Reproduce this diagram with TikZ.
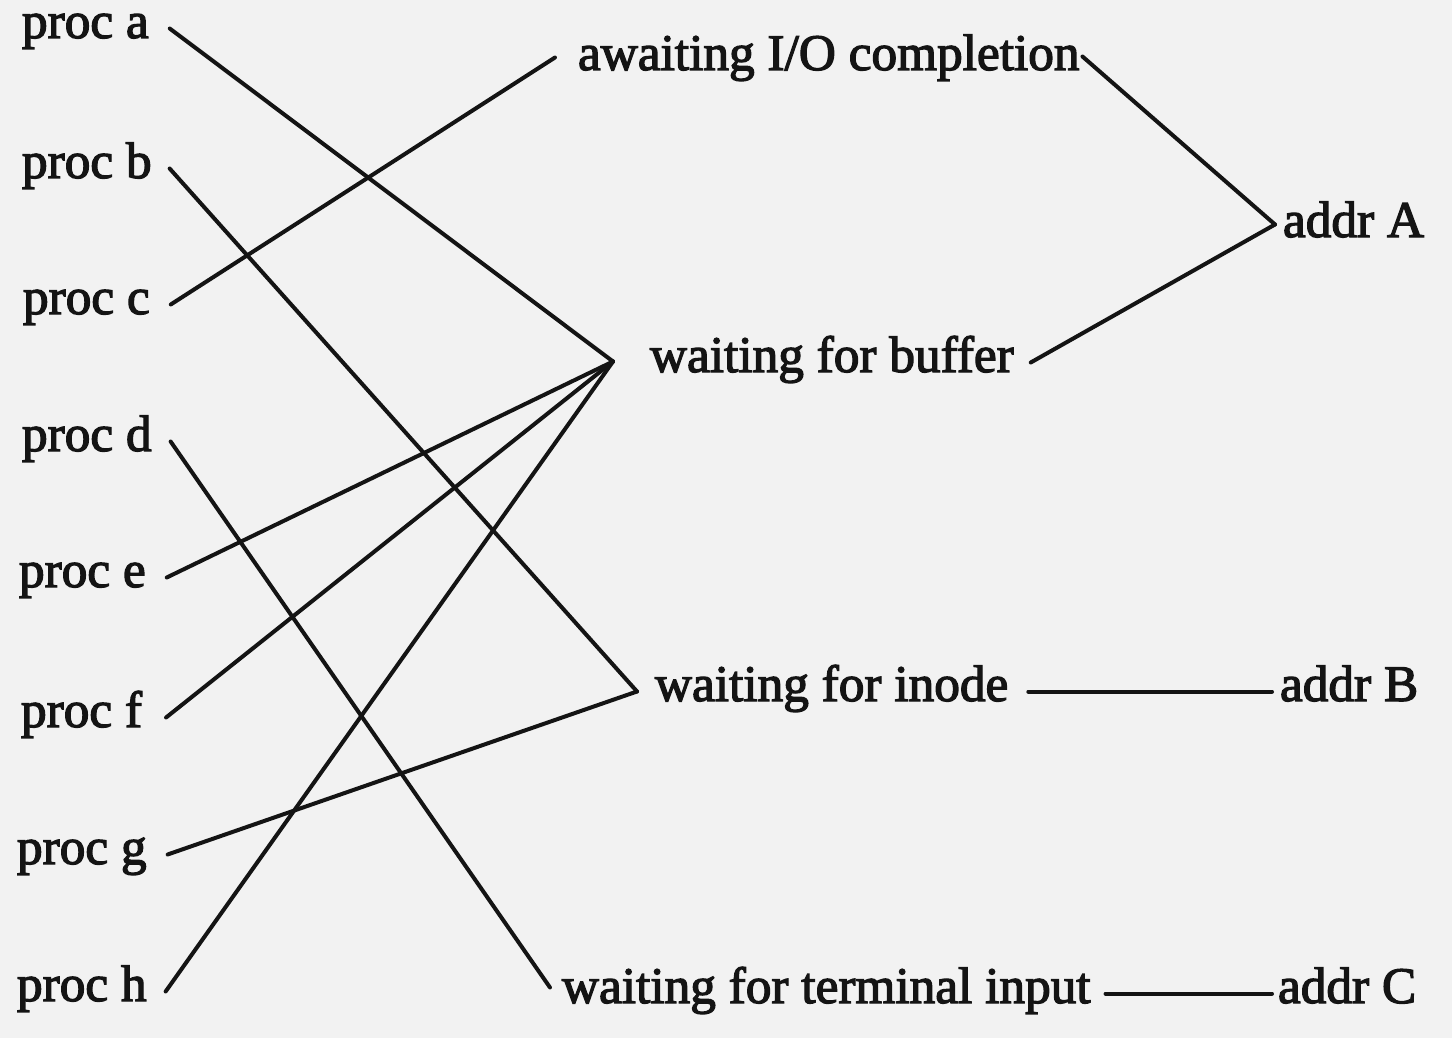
\documentclass[tikz,border=0pt]{standalone}
\usepackage{fontspec}
\setmainfont{Liberation Serif}[FakeBold=2.5]
\definecolor{ink}{HTML}{141414}
\definecolor{paper}{HTML}{F2F2F2}
\begin{document}
\begin{tikzpicture}[x=1pt,y=-1pt,
  lbl/.style={anchor=base west, inner sep=0pt, outer sep=0pt,
    text height=30pt, text depth=11pt,
    font=\fontsize{51.3}{60}\selectfont, text=ink},
  wire/.style={draw=ink, line width=4pt, line cap=round}]
\fill[paper] (0,0) rectangle (1452,1038);
\useasboundingbox (0,0) rectangle (1452,1038);
% processes
\node[lbl] (pa) at (22,38)   {proc a};
\node[lbl] (pb) at (22,178)  {proc b};
\node[lbl] (pc) at (23,314)  {proc c};
\node[lbl] (pd) at (22,451)  {proc d};
\node[lbl] (pe) at (19,587)  {proc e};
\node[lbl] (pf) at (21,727)  {proc f};
\node[lbl] (pg) at (17,864)  {proc g};
\node[lbl] (ph) at (17,1001) {proc h};
% states
\node[lbl] (aw)  at (578,70)   {awaiting I/O completion};
\node[lbl] (buf) at (650,372)  {waiting for buffer};
\node[lbl] (ino) at (655,701)  {waiting for inode};
\node[lbl] (ter) at (562,1003) {waiting for terminal input};
% addresses
\node[lbl] (adA) at (1283,237)  {addr A};
\node[lbl] (adB) at (1280,701)  {addr B};
\node[lbl] (adC) at (1278,1003) {addr C};
% junctions
\coordinate (jaw) at ([shift={(-23pt,3pt)}]aw.west);
\coordinate (jb)  at ([shift={(-37pt,1pt)}]buf.west);
\coordinate (ji)  at ([xshift=-18pt]ino.west);
\coordinate (jt)  at ([shift={(-12pt,6pt)}]ter.west);
\coordinate (jA)  at ([shift={(-8pt,3pt)}]adA.west);
% process connectors
\draw[wire] ([shift={(21pt,0pt)}]pa.east) -- (jb);
\draw[wire] ([xshift=18pt]pb.east) -- (ji);
\draw[wire] ([xshift=21pt]pc.east) -- (jaw);
\draw[wire] ([xshift=19pt]pd.east) -- (jt);
\draw[wire] ([xshift=21pt]pe.east) -- (jb);
\draw[wire] ([xshift=24pt]pf.east) -- (jb);
\draw[wire] ([xshift=21pt]pg.east) -- (ji);
\draw[wire] ([xshift=19pt]ph.east) -- (jb);
% address connectors
\draw[wire] ([shift={(3pt,4pt)}]aw.east) -- (jA);
\draw[wire] ([xshift=17pt]buf.east) -- (jA);
\draw[wire] ([xshift=20pt]ino.east) -- ([xshift=-8pt]adB.west);
\draw[wire] ([xshift=15pt]ter.east) -- ([xshift=-6pt]adC.west);
\end{tikzpicture}
\end{document}
